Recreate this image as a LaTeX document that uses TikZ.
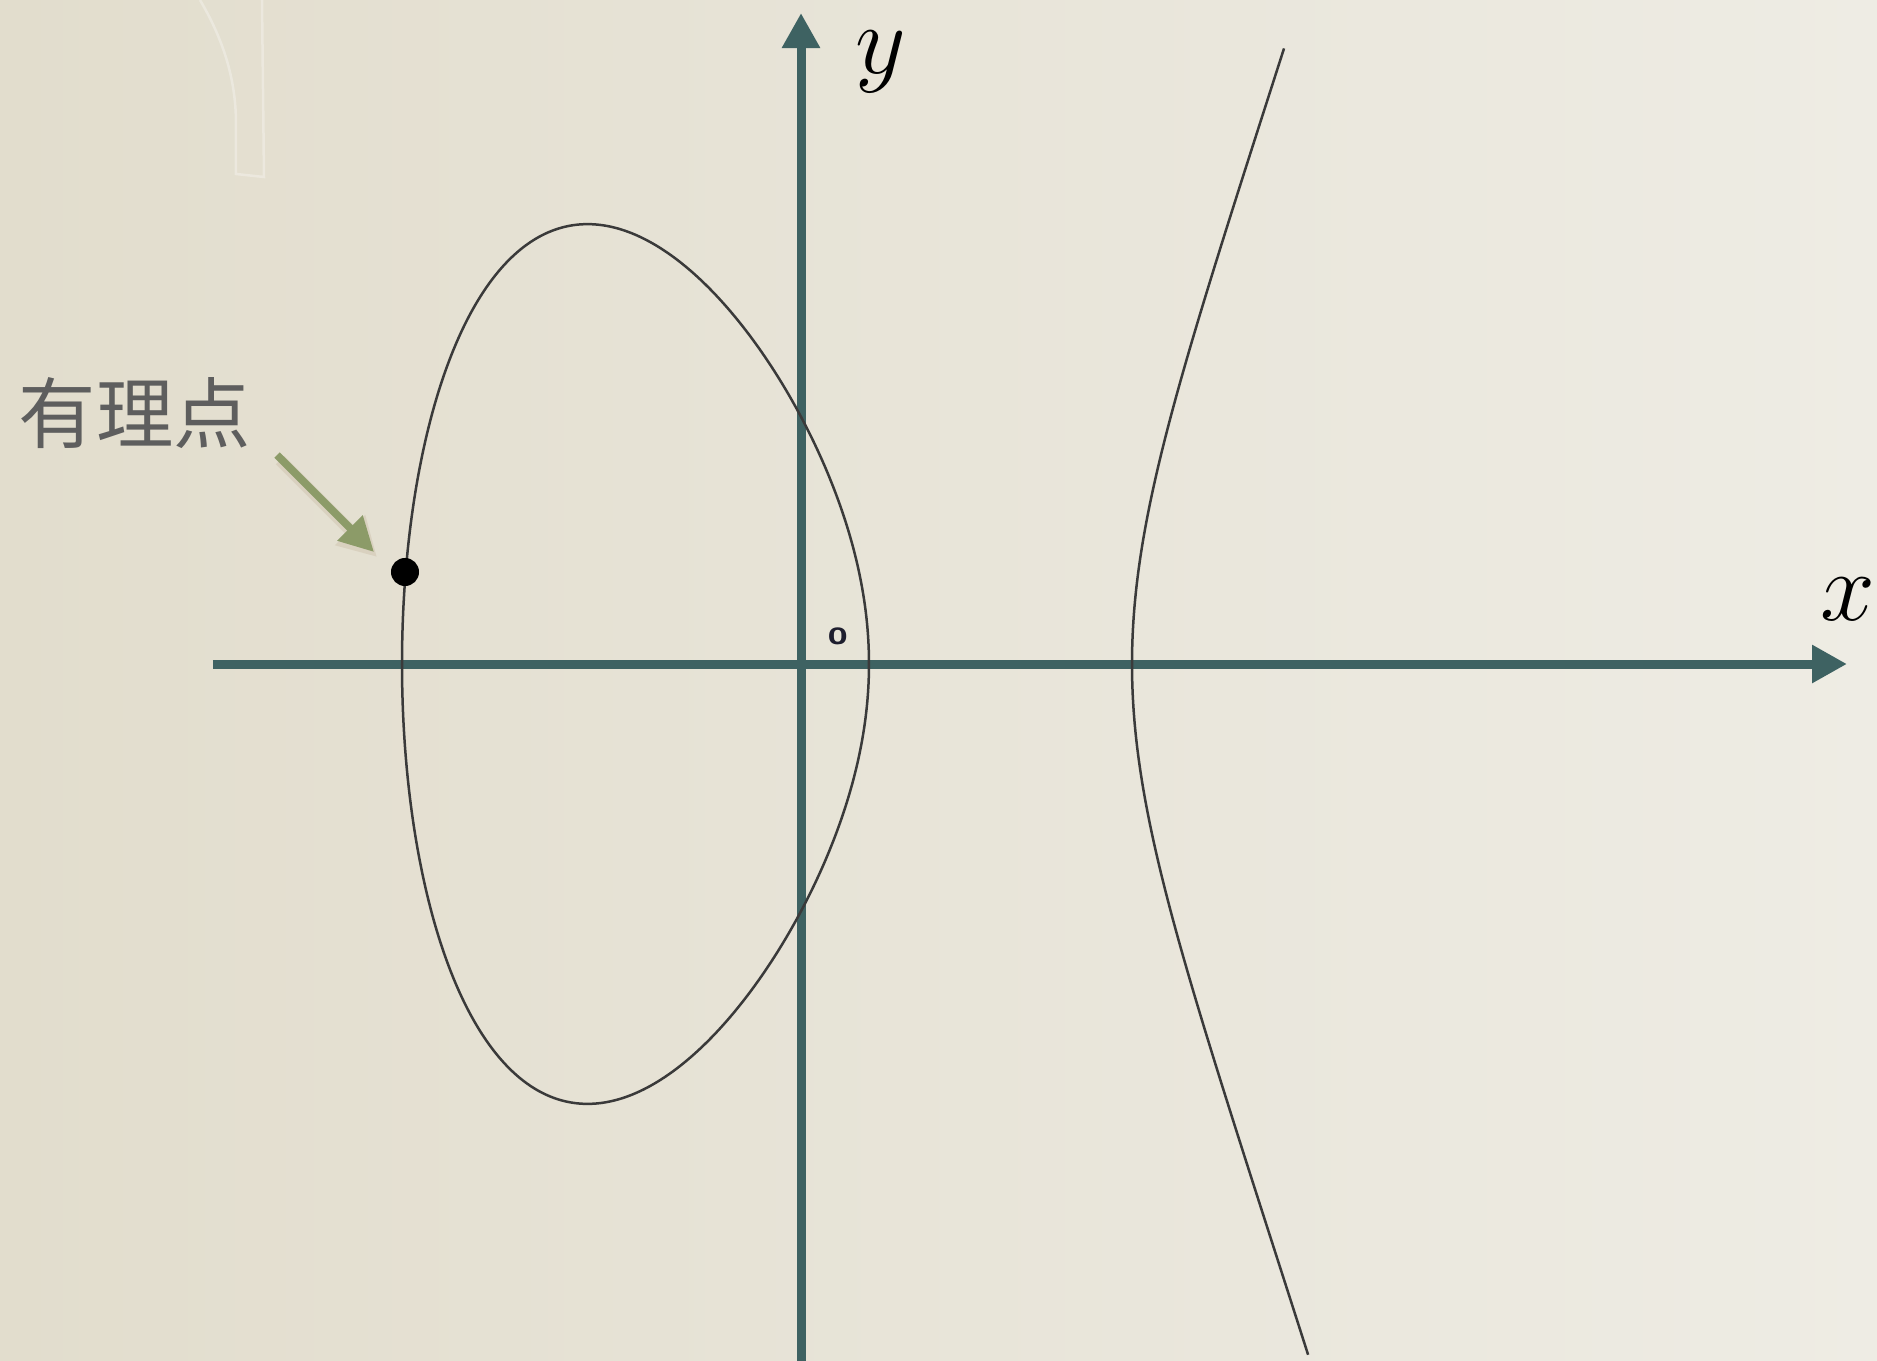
\RequirePackage{fix-cm}
\documentclass[tikz,border=0pt]{standalone}
\usepackage{fontspec}
\newfontfamily\cjk{Noto Sans CJK JP}
\usetikzlibrary{arrows.meta}
\definecolor{axiscol}{HTML}{3E6262}
\definecolor{curvecol}{HTML}{3A3A3A}
\definecolor{arrowgreen}{HTML}{8C9B68}
\definecolor{arrowshadow}{HTML}{8A6A40}
\definecolor{bgleft}{HTML}{E2DDCD}
\definecolor{bgright}{HTML}{EEECE4}
\definecolor{labelgray}{HTML}{5E5E5E}
\definecolor{olabcol}{HTML}{1E1E2E}
\tikzset{
  axisline/.style={draw=axiscol, line width=0.09cm, -{Triangle[length=0.35cm,width=0.36cm]}},
  curveline/.style={draw=curvecol, line width=0.025cm},
  greenarrow/.style={draw=arrowgreen, line width=0.075cm, -{Triangle[length=0.34cm,width=0.34cm]}},
  greenshadow/.style={draw=arrowshadow, opacity=0.12, line width=0.12cm, -{Triangle[length=0.38cm,width=0.40cm]}},
  ratdot/.style={circle, fill=black, minimum size=0.28cm, inner sep=0pt},
  bigmath/.style={font=\fontsize{28}{30}\selectfont, inner sep=0pt},
}
\begin{document}
\begin{tikzpicture}[x=0.01cm,y=0.01cm]
% background
\shade[left color=bgleft, right color=bgright] (-801,-696) rectangle (1076,664);
\useasboundingbox (-801,-696) rectangle (1076,664);
\draw[white, opacity=0.3, line width=0.025cm] (-601,664) .. controls (-575,620) and (-565,580) .. (-565,540) -- (-565,490) -- (-537,487) -- (-539,664);
% axes
\coordinate (O) at (0,0);
\coordinate (xs) at (-588,0);
\coordinate (xe) at (1046,0);
\coordinate (ys) at (0,-700);
\coordinate (ye) at (0,651);
\draw[axisline] (xs) -- (xe);
\draw[axisline] (ys) -- (ye);
% elliptic curve: oval
\draw[curveline] plot[domain=0:360, samples=240, smooth, variable=\t]
  ({-165.5-233.5*cos(\t)}, {233.5*sin(\t)*sqrt(0.00681*(496.5+233.5*cos(\t)))}) -- cycle;
% elliptic curve: unbounded branch
\draw[curveline] plot[domain=-13.27:12.33, samples=120, smooth, variable=\s]
  ({331+\s*\s}, {\s*sqrt(0.0681*(\s*\s+730))*sqrt(0.1*(\s*\s+263))});
% labels
\node[bigmath, anchor=base] (ylab) at (80,590) {$y$};
\node[bigmath, anchor=base] (xlab) at (1047,44) {$x$};
\node[font=\sffamily\bfseries\fontsize{10}{12}\selectfont, text=olabcol, inner sep=0pt] (olab) at (37,28) {o};
\node[font=\cjk\fontsize{22}{24}\selectfont, text=labelgray, inner sep=0pt] (lab) at (-666,251) {有理点};
% rational point and arrow
\node[ratdot] (P) at (-396,92) {};
\coordinate (gstart) at (-524,209);
\coordinate (gtip) at (-427,112);
\coordinate (sstart) at (-521,204);
\coordinate (stip) at (-424,107);
\draw[greenshadow] (sstart) -- (stip);
\draw[greenarrow] (gstart) -- (gtip);
\end{tikzpicture}
\end{document}
